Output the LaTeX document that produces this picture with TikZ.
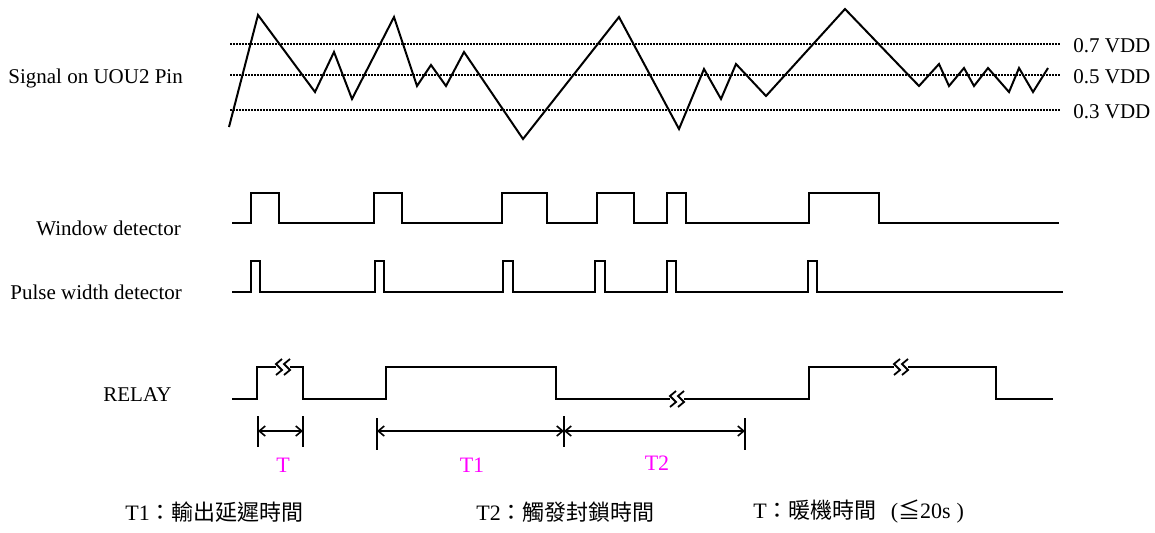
\documentclass[tikz,border=0pt]{standalone}
\usepackage{fontspec}
\setmainfont{Liberation Serif}
\newfontfamily\cjk{Noto Sans CJK TC}
\usetikzlibrary{arrows.meta}
\definecolor{pinkmag}{RGB}{255,0,255}
\newcommand\tbreak[2]{%
  \draw[brk] (#1-1,#2-8) -- (#1-7,#2-3) -- (#1-1,#2+3) -- (#1-7,#2+8);
  \draw[brk] (#1+7,#2-8) -- (#1+1,#2-3) -- (#1+7,#2+3) -- (#1+1,#2+8);}
\begin{document}
\begin{tikzpicture}[x=0.5pt,y=-0.5pt,
  wave/.style={line width=1pt, line join=miter},
  guide/.style={line width=1pt, dash pattern=on 0.8pt off 0.7pt},
  lbl/.style={font=\fontsize{10.5}{12}\selectfont, inner sep=0pt, anchor=west},
  btm/.style={font=\fontsize{11}{13}\selectfont, inner sep=0pt, anchor=west},
  mag/.style={font=\fontsize{11}{13}\selectfont, text=pinkmag, inner sep=0pt},
  dim/.style={line width=0.8pt, {Straight Barb[length=3pt,width=5pt]}-{Straight Barb[length=3pt,width=5pt]}},
  tickln/.style={line width=0.9pt},
  brk/.style={line width=0.9pt}]
\useasboundingbox (0,0) rectangle (1155,532);

% guide lines
\coordinate (g7a) at (230,44);  \coordinate (g7b) at (1060,44);
\coordinate (g5a) at (230,75);  \coordinate (g5b) at (1060,75);
\coordinate (g3a) at (230,110); \coordinate (g3b) at (1060,110);
\draw[guide] (g7a) -- (g7b);
\draw[guide] (g5a) -- (g5b);
\draw[guide] (g3a) -- (g3b);
\node[lbl] (v7) at (1073,46) {0.7 VDD};
\node[lbl] (v5) at (1073,77) {0.5 VDD};
\node[lbl] (v3) at (1073,112) {0.3 VDD};

% signal
\draw[wave] (229,127) -- (258,15) -- (315,92) -- (334,52) -- (352,99) -- (394,17)
  -- (417,86) -- (431,65) -- (446,86) -- (464,52) -- (523,139) -- (619,17)
  -- (679,129) -- (704,69) -- (721,99) -- (736,64) -- (766,96) -- (845,9)
  -- (919,86) -- (939,64) -- (949,86) -- (964,68) -- (974,86) -- (988,68)
  -- (1009,92) -- (1019,68) -- (1033,92) -- (1048,68);

% labels
\node[lbl] (lsig) at (8,78) {Signal on UOU2 Pin};
\node[lbl] (lwin) at (36,228) {Window detector};
\node[lbl] (lpw) at (10,292) {Pulse width detector};
\node[lbl] (lrel) at (103,395) {RELAY};

% window detector (low 223, high 193)
\draw[wave] (232,223) -- (251,223) -- (251,193) -- (279,193) -- (279,223)
  -- (374,223) -- (374,193) -- (402,193) -- (402,223)
  -- (502,223) -- (502,193) -- (547,193) -- (547,223)
  -- (597,223) -- (597,193) -- (634,193) -- (634,223)
  -- (667,223) -- (667,193) -- (686,193) -- (686,223)
  -- (809,223) -- (809,193) -- (879,193) -- (879,223) -- (1059,223);

% pulse width detector (low 292, high 261)
\draw[wave] (232,292) -- (251,292) -- (251,261) -- (260,261) -- (260,292)
  -- (375,292) -- (375,261) -- (384,261) -- (384,292)
  -- (503,292) -- (503,261) -- (513,261) -- (513,292)
  -- (595,292) -- (595,261) -- (605,261) -- (605,292)
  -- (667,292) -- (667,261) -- (676,261) -- (676,292)
  -- (808,292) -- (808,261) -- (817,261) -- (817,292) -- (1063,292);

% relay (low 399, high 367)
\draw[wave] (232,399) -- (257,399) -- (257,367) -- (276,367);
\tbreak{283}{367}
\draw[wave] (290,367) -- (303,367) -- (303,399) -- (386,399) -- (386,367)
  -- (556,367) -- (556,399) -- (670,399);
\tbreak{677}{399}
\draw[wave] (684,399) -- (809,399) -- (809,367) -- (894,367);
\tbreak{901}{367}
\draw[wave] (908,367) -- (996,367) -- (996,399) -- (1053,399);

% dimension ticks
\coordinate (ta) at (258,431); \coordinate (tb) at (303,431);
\coordinate (tc) at (377,431); \coordinate (td) at (564,431);
\coordinate (te) at (745,431);
\draw[tickln] (258,416) -- (258,447);
\draw[tickln] (303,416) -- (303,447);
\draw[tickln] (377,418) -- (377,450);
\draw[tickln] (564,416) -- (564,447);
\draw[tickln] (745,418) -- (745,450);
\draw[dim] (ta) -- (tb);
\draw[dim] (tc) -- (td);
\draw[dim] (td) -- (te);
\node[mag] (mT) at (283,465) {T};
\node[mag] (mT1) at (472,465) {T1};
\node[mag] (mT2) at (657,463) {T2};

% bottom legend
\node[btm] (b1) at (125,512) {T1{\cjk ：輸出延遲時間}};
\node[btm] (b2) at (476,512) {T2{\cjk ：觸發封鎖時間}};
\node[btm] (b3) at (753,512) {T{\cjk ：暖機時間}\hspace{7pt}({\cjk ≦}20s\hspace{3pt})};
\end{tikzpicture}
\end{document}
